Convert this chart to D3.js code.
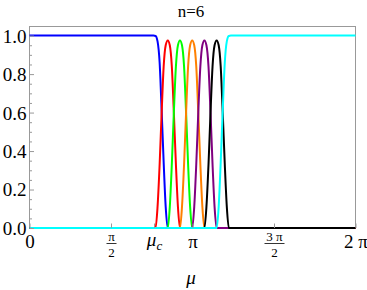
<!DOCTYPE html>
<html><head><meta charset="utf-8">
<script src="https://cdn.jsdelivr.net/npm/d3@7"></script>
<style>body{margin:0;background:#fff;} svg{display:block} text{font-family:"Liberation Serif","Times New Roman",Times,serif;}</style>
</head><body><svg id="c" width="367" height="290"></svg>
<script>
// ---- data ----
const blueMu   = [0, 2.350, 2.390, 2.429, 2.468, 2.508, 2.547, 2.586, 2.625, 2.665, 6.283];
const blueVal  = [1, 1, 1, 0.998, 0.97, 0.86, 0.61, 0.34, 0.11, 0, 0];
const redMu    = [0, 2.429, 2.468, 2.508, 2.547, 2.586, 2.625, 2.665, 2.704, 2.743, 2.782, 2.822, 2.861, 2.900, 6.283];
const redVal   = [0, 0, 0.11, 0.33, 0.6, 0.84, 0.95, 0.975, 0.95, 0.84, 0.6, 0.33, 0.11, 0, 0];
const greenMu  = [0, 2.665, 2.704, 2.743, 2.782, 2.822, 2.861, 2.900, 2.939, 2.979, 3.018, 3.057, 3.096, 3.136, 6.283];
const greenVal = [0, 0, 0.11, 0.33, 0.6, 0.84, 0.95, 0.975, 0.95, 0.84, 0.6, 0.33, 0.11, 0, 0];
const orangeMu = [0, 2.900, 2.939, 2.979, 3.018, 3.057, 3.096, 3.136, 3.175, 3.214, 3.253, 3.293, 3.332, 3.371, 6.283];
const orangeVal= [0, 0, 0.11, 0.33, 0.6, 0.84, 0.95, 0.975, 0.95, 0.84, 0.6, 0.33, 0.11, 0, 0];
const purpleMu = [0, 3.136, 3.175, 3.214, 3.253, 3.293, 3.332, 3.371, 3.410, 3.450, 3.489, 3.528, 3.567, 3.607, 6.283];
const purpleVal= [0, 0, 0.11, 0.33, 0.6, 0.84, 0.95, 0.975, 0.95, 0.84, 0.6, 0.33, 0.11, 0, 0];
const blackMu  = [0, 3.371, 3.410, 3.450, 3.489, 3.528, 3.567, 3.607, 3.646, 3.685, 3.724, 3.764, 3.803, 3.842, 6.283];
const blackVal = [0, 0, 0.11, 0.33, 0.6, 0.84, 0.95, 0.975, 0.95, 0.84, 0.6, 0.33, 0.11, 0, 0];
const cyanMu   = [0, 3.607, 3.646, 3.685, 3.724, 3.764, 3.803, 3.842, 3.881, 3.921, 6.283];
const cyanVal  = [0, 0, 0.11, 0.34, 0.61, 0.86, 0.97, 0.998, 1, 1, 1];

const seriesColors = ["#0000ff", "#ff0000", "#00ff00", "#ff8000", "#800080", "#000000", "#00ffff"];
const title = "n=6";
const yTicks = [0, 0.2, 0.4, 0.6, 0.8, 1.0];
const yTickLabels = ["0.0", "0.2", "0.4", "0.6", "0.8", "1.0"];
const yMinorTicks = [0.05, 0.1, 0.15, 0.25, 0.3, 0.35, 0.45, 0.5, 0.55, 0.65, 0.7, 0.75, 0.85, 0.9, 0.95, 1.05];
const muC = 2.40;
const xTicks = [0, Math.PI / 2, muC, Math.PI, 3 * Math.PI / 2, 2 * Math.PI];
const xTickLabels = ["0", "π/2", "μc", "π", "3π/2", "2 π"];

// ---- drawing ----
const svg = d3.select("#c");
const L = 29.5, R = 355.5, T = 26, B = 228;
const x = d3.scaleLinear().domain([0, 2 * Math.PI]).range([L, R]);
const y = d3.scaleLinear().domain([0, 1.05]).range([B, T]);
const serif = "Liberation Serif";

// frame
svg.append("rect").attr("x", L).attr("y", T + 0.5).attr("width", R - L).attr("height", B - T - 0.5)
  .attr("fill", "none").attr("stroke", "#999").attr("stroke-width", 1);

const series = [
  [blueMu, blueVal], [redMu, redVal], [greenMu, greenVal], [orangeMu, orangeVal],
  [purpleMu, purpleVal], [blackMu, blackVal], [cyanMu, cyanVal]
];
const line = d3.line().x(d => x(d[0])).y(d => y(d[1])).curve(d3.curveMonotoneX);
series.forEach((s, i) => {
  const pts = s[0].map((m, j) => [m, s[1][j]]);
  svg.append("path").datum(pts).attr("d", line)
    .attr("fill", "none").attr("stroke", seriesColors[i]).attr("stroke-width", 2)
    .attr("stroke-linejoin", "round");
});

// y axis
const yAx = svg.append("g").attr("transform", `translate(${L},0)`)
  .call(d3.axisLeft(y).tickValues(yTicks).tickSize(-4.5).tickFormat((d, i) => yTickLabels[i]));
yAx.attr("font-family", null).attr("font-size", null);
yAx.select(".domain").remove();
yAx.selectAll(".tick line").attr("stroke", "#999");
yAx.selectAll(".tick text").attr("x", -3).attr("dy", "0.34em")
  .style("font-family", serif).attr("font-size", 19).attr("fill", "#000");
const yMin = svg.append("g").attr("transform", `translate(${L},0)`)
  .call(d3.axisLeft(y).tickValues(yMinorTicks).tickSize(-2.5).tickFormat(""));
yMin.select(".domain").remove();
yMin.selectAll(".tick line").attr("stroke", "#999");

// x axis
const xAx = svg.append("g").attr("transform", `translate(0,${B})`)
  .call(d3.axisBottom(x).tickValues(xTicks).tickSize(-4.5).tickFormat(""));
xAx.attr("font-family", null).attr("font-size", null).attr("fill", "#000");
xAx.select(".domain").remove();
xAx.selectAll(".tick line").attr("stroke", "#999");
xAx.selectAll(".tick text").remove();
xAx.selectAll(".tick").each(function (d, i) {
  const g = d3.select(this);
  const lab = xTickLabels[i];
  if (lab.includes("/")) {
    const [num, den] = lab.split("/");
    const w = num.length > 1 ? 10 : 5;
    g.append("text").attr("x", 0).attr("y", 12.5).attr("text-anchor", "middle").attr("fill", "#000")
      .attr("font-size", 13).text(num === "3π" ? "3 π" : num);
    g.append("line").attr("x1", -w).attr("x2", w).attr("y1", 15.5).attr("y2", 15.5)
      .attr("stroke", "#000").attr("stroke-width", 0.8);
    g.append("text").attr("x", 0).attr("y", 29).attr("text-anchor", "middle").attr("fill", "#000")
      .attr("font-size", 13).text(den);
  } else if (lab === "μc") {
    const t = g.append("text").attr("x", 0).attr("y", 17.5).attr("text-anchor", "middle").attr("fill", "#000")
      .attr("font-style", "italic");
    t.append("tspan").attr("font-size", 19).text("μ");
    t.append("tspan").attr("font-size", 13).attr("dy", 4.5).text("c");
  } else {
    g.append("text").attr("x", 0).attr("y", 20).attr("text-anchor", "middle").attr("fill", "#000")
      .attr("font-size", 19).text(lab);
  }
});

// axis label and title
svg.append("text").attr("x", 191).attr("y", 284).attr("text-anchor", "middle").attr("fill", "#000")
  .attr("font-style", "italic").attr("font-size", 19).text("μ");
svg.append("text").attr("x", 191).attr("y", 17).attr("text-anchor", "middle").attr("fill", "#000")
  .attr("font-size", 17).text(title);
</script></body></html>
